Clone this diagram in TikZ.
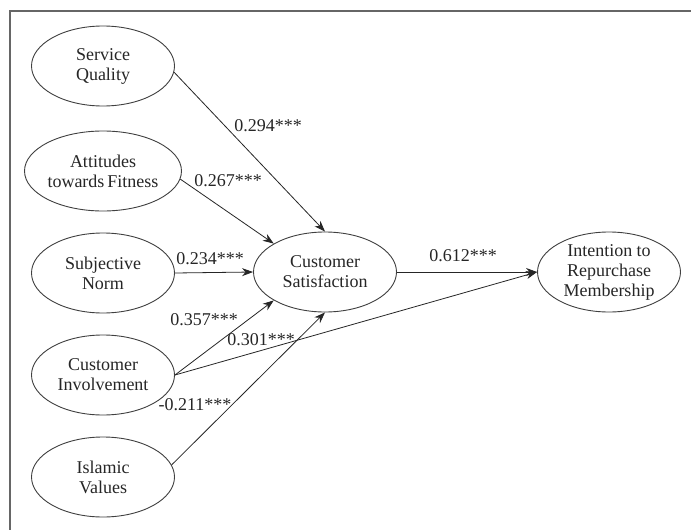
\documentclass[tikz,border=0pt]{standalone}
\usepackage{fontspec}
\setmainfont{Liberation Serif}
\usetikzlibrary{shapes.geometric,arrows.meta}
\begin{document}
\begin{tikzpicture}[x=1pt,y=-1pt,
  var/.style={ellipse,draw=black!75,line width=0.9pt,minimum width=143pt,minimum height=80pt,inner sep=0pt,align=center,text=black!85,font=\fontsize{18}{20}\selectfont},
  lbl/.style={inner sep=0pt,text=black!85,font=\fontsize{18}{20}\selectfont},
  path/.style={draw=black!85,line width=0.8pt,-{Stealth[length=11pt,width=8pt]}}]
\useasboundingbox (0,0) rectangle (691,530);
\fill[white] (0,0) rectangle (691,530);
\draw[black!60,line width=1.5pt] (10,531) -- (10,11) -- (692,11);
\node[var] (sq) at (103,66) {Service\\Quality};
\node[var] (af) at (103,171) {Attitudes\\towards\,Fitness};
\node[var] (sn) at (103,273) {Subjective\\Norm};
\node[var] (ci) at (103,375) {Customer\\Involvement};
\node[var] (iv) at (103,477) {Islamic\\Values};
\node[var] (cs) at (325,272) {Customer\\Satisfaction};
\node[var] (ir) at (609,272) {Intention to\\Repurchase\\Membership};
\draw[path] (sq.-5) -- (cs.90);
\draw[path] (af.-6) -- (cs.151);
\draw[path] (sn.east) -- (cs.west);
\draw[path] (ci.east) -- (cs.209);
\draw[path] (iv.10) -- (cs.270);
\draw[path] (ci.east) -- (ir.west);
\draw[path] (cs.east) -- (ir.west);
\node[lbl] (l1) at (268,126) {0.294***};
\node[lbl] (l2) at (228,181) {0.267***};
\node[lbl] (l3) at (210,259) {0.234***};
\node[lbl] (l4) at (204,320) {0.357***};
\node[lbl] (l5) at (261,340) {0.301***};
\node[lbl] (l6) at (195,405) {-0.211***};
\node[lbl] (l7) at (463,256) {0.612***};
\end{tikzpicture}
\end{document}
